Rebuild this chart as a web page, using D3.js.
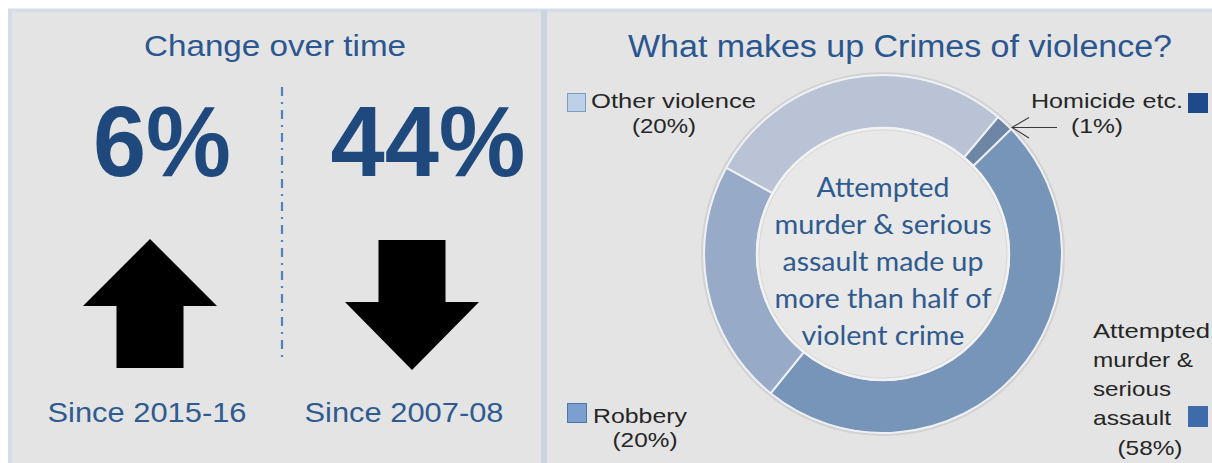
<!DOCTYPE html>
<html><head><meta charset="utf-8">
<script src="https://cdn.jsdelivr.net/npm/d3@7"></script>
<style>html,body{margin:0;padding:0;background:#fff;}svg{display:block;}</style>
</head><body>
<svg id="c" width="1212" height="463"></svg>
<script>
// ---- data ----
const leftTitle = "Change over time";
const changeValues = ["6%", "44%"];
const changeDirections = ["up", "down"];
const changePeriods = ["Since 2015-16", "Since 2007-08"];

const rightTitle = "What makes up Crimes of violence?";
const categories = ["Homicide etc.", "Attempted murder & serious assault", "Robbery", "Other violence"];
const sliceShares = [1.6, 48.1, 22.2, 28.1];          // share of ring as drawn
const labelPercents = ["(1%)", "(58%)", "(20%)", "(20%)"];
const centreLines = ["Attempted", "murder & serious", "assault made up", "more than half of", "violent crime"];

// ---- styles ----
const sliceColors = ["#6e86a6", "#7794b9", "#97aac7", "#b9c3d5"];
const legendColors = ["#1f4a8a", "#3e6cab", "#7b9fcf", "#bdd0e8"];
const titleColor = "#2b5690";
const numColor = "#1f497d";
const labelFont = "'Liberation Sans', Arial, sans-serif";

const svg = d3.select("#c");

// background panels
svg.append("rect").attr("x", 10).attr("y", 10.5).attr("width", 1215).attr("height", 470)
  .attr("fill", "#e4e4e4").attr("stroke", "#d6dde7").attr("stroke-width", 4);
svg.append("rect").attr("x", 541).attr("y", 10).attr("width", 6).attr("height", 460).attr("fill", "#cbd3de");

// ---------- left panel ----------
svg.append("text").attr("x", 275).attr("y", 56).attr("text-anchor", "middle")
  .attr("font-family", labelFont).attr("font-size", 30).attr("fill", titleColor)
  .attr("textLength", 262).attr("lengthAdjust", "spacingAndGlyphs").text(leftTitle);

const col = d3.scaleLinear().domain([0, 1]).range([150, 412]);

// divider dash-dot line
svg.append("line").attr("x1", 282).attr("x2", 282).attr("y1", 87).attr("y2", 358)
  .attr("stroke", "#4f81bd").attr("stroke-width", 2.2).attr("stroke-dasharray", "9,6,2,6");

const cols = svg.append("g").selectAll("g").data(changeValues.map((v, i) => ({v, i, dir: changeDirections[i], p: changePeriods[i]})))
  .join("g");

cols.append("text")
  .attr("x", d => col(d.i) + (d.i === 0 ? 12 : 16)).attr("y", 176)
  .attr("text-anchor", "middle").attr("font-family", labelFont).attr("font-weight", "bold")
  .attr("font-size", 100).attr("fill", numColor)
  .attr("textLength", d => d.i === 0 ? 138 : 195).attr("lengthAdjust", "spacingAndGlyphs")
  .text(d => d.v);

function arrowPath(cx, dir) {
  const hw = 67, sw = 33.5;
  if (dir === "up") {
    const tip = 239, base = 306, bottom = 368;
    return `M${cx},${tip}L${cx + hw},${base}L${cx + sw},${base}L${cx + sw},${bottom}L${cx - sw},${bottom}L${cx - sw},${base}L${cx - hw},${base}Z`;
  } else {
    const top = 240, base = 302, tip = 370;
    return `M${cx - sw},${top}L${cx + sw},${top}L${cx + sw},${base}L${cx + hw},${base}L${cx},${tip}L${cx - hw},${base}L${cx - sw},${base}Z`;
  }
}
cols.append("path").attr("d", d => arrowPath(col(d.i), d.dir)).attr("fill", "#000");

cols.append("text")
  .attr("x", d => col(d.i) - (d.i === 0 ? 3 : 8)).attr("y", 422)
  .attr("text-anchor", "middle").attr("font-family", labelFont).attr("font-size", 28).attr("fill", "#2f5b91")
  .attr("textLength", 199).attr("lengthAdjust", "spacingAndGlyphs").text(d => d.p);

// ---------- right panel ----------
svg.append("text").attr("x", 900).attr("y", 57).attr("text-anchor", "middle")
  .attr("font-family", labelFont).attr("font-size", 31).attr("fill", titleColor)
  .attr("textLength", 544).attr("lengthAdjust", "spacingAndGlyphs").text(rightTitle);

const cx = 883, cy = 254, rOut = 179, rIn = 126;
const g = svg.append("g").attr("transform", `translate(${cx},${cy})`);

// soft edge around ring
g.append("circle").attr("r", rOut + 1.5).attr("fill", "none").attr("stroke", "#d2d2d2").attr("stroke-width", 3);

const pie = d3.pie().sort(null).value(d => d).startAngle(40 * Math.PI / 180).endAngle(400 * Math.PI / 180);
const arc = d3.arc().innerRadius(rIn).outerRadius(rOut);
g.selectAll("path.slice").data(pie(sliceShares)).join("path").attr("class", "slice")
  .attr("d", arc).attr("fill", (d, i) => sliceColors[i])
  .attr("stroke", "#eef1f5").attr("stroke-width", 2);

g.append("circle").attr("r", rOut).attr("fill", "none").attr("stroke", "#eef0f3").attr("stroke-width", 1);
// inner hole
g.append("circle").attr("r", rIn).attr("fill", "#e8e8e8").attr("stroke", "#f2f2f2").attr("stroke-width", 2.5);
g.append("circle").attr("r", rIn - 2).attr("fill", "none").attr("stroke", "#d9d9d9").attr("stroke-width", 1);

// centre text
const centreWidths = [133, 217, 201, 217, 163];
g.selectAll("text.c").data(centreLines).join("text").attr("class", "c")
  .attr("x", 0).attr("y", (d, i) => 197 - cy + i * 37)
  .attr("text-anchor", "middle").attr("font-family", "Lato, 'Open Sans', sans-serif").attr("font-size", 27)
  .attr("fill", "#2f5b8f")
  .attr("textLength", (d, i) => centreWidths[i]).attr("lengthAdjust", "spacingAndGlyphs").text(d => d);

// ---------- legend labels ----------
const lab = svg.append("g").attr("font-family", labelFont).attr("font-size", 21).attr("fill", "#262626");
function txt(x, y, s, w, anchor) {
  return lab.append("text").attr("x", x).attr("y", y).attr("text-anchor", anchor || "start")
    .attr("textLength", w).attr("lengthAdjust", "spacingAndGlyphs").text(s);
}
function sq(x, y, w, h, color, stroke) {
  svg.append("rect").attr("x", x).attr("y", y).attr("width", w).attr("height", h)
    .attr("fill", color).attr("stroke", stroke || "none").attr("stroke-width", 1);
}
// Other violence (top-left)
sq(567.5, 93.5, 18, 18, legendColors[3], "#7f9bbf");
txt(591, 108, "Other violence", 165);
txt(664, 133, labelPercents[3], 64, "middle");
// Homicide (top-right)
sq(1188, 93, 20, 20, legendColors[0]);
txt(1031, 108, "Homicide etc.", 152);
txt(1097, 133, labelPercents[0], 52, "middle");
// pointer arrow
svg.append("path").attr("d", "M1057,127.5L1012,127.5M1029,117.5L1012,127.5L1029,138")
  .attr("fill", "none").attr("stroke", "#3a3a3a").attr("stroke-width", 1.1);
// Robbery
sq(567.5, 403.5, 19, 19, legendColors[2], "#4f76a8");
txt(593, 423, "Robbery", 94).attr("font-size", 20);
txt(645, 447, labelPercents[2], 65, "middle").attr("font-size", 20);
// Attempted murder
sq(1188, 406, 20, 21, legendColors[1]);
const amLines = ["Attempted", "murder &", "serious", "assault"];
const amWidths = [117, 100, 78, 78];
amLines.forEach((s, i) => txt(1093, 338 + i * 29, s, amWidths[i]));
txt(1150, 455, labelPercents[1], 65, "middle");
</script>
</body></html>
